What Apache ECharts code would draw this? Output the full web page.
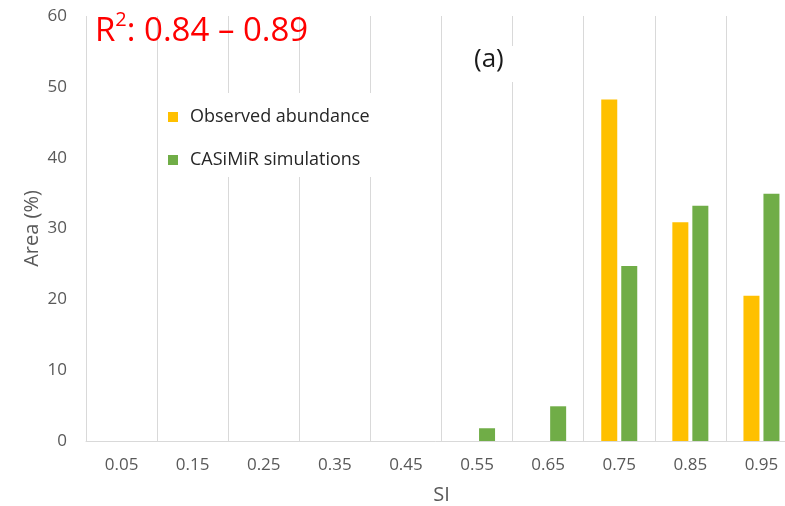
<!DOCTYPE html>
<html>
<head>
<meta charset="utf-8">
<script src="https://cdn.jsdelivr.net/npm/echarts@6/dist/echarts.min.js"></script>
<style>
  html, body { margin: 0; padding: 0; background: #fff; }
  #chart { width: 785px; height: 506px; }
</style>
</head>
<body>
<div id="chart"></div>
<script>
// Suitability index classes (bin centres)
const siClasses = ['0.05', '0.15', '0.25', '0.35', '0.45', '0.55', '0.65', '0.75', '0.85', '0.95'];
// Share of area (%) per class
const observedAbundance = [0, 0, 0, 0, 0, 0, 0, 48.2, 30.9, 20.5];
const casimirSimulations = [0, 0, 0, 0, 0, 1.8, 4.9, 24.7, 33.2, 34.9];
const yTicks = { min: 0, max: 60, interval: 10 };

const FONT = '"Open Sans", "Noto Sans", sans-serif';
const GREY = '#595959';
const GRID_LINE = '#d9d9d9';

const chart = echarts.init(document.getElementById('chart'), null, { renderer: 'canvas' });

chart.setOption({
  animation: false,
  backgroundColor: '#ffffff',
  textStyle: { fontFamily: FONT },
  // plot area runs a little past the right edge of the canvas
  grid: { left: 86, top: 16, width: 711, height: 425, outerBoundsMode: 'none', containLabel: false },
  legend: {
    orient: 'vertical',
    left: 160,
    top: 93,
    padding: [14, 2, 7, 8],
    backgroundColor: '#ffffff',
    itemWidth: 10,
    itemHeight: 10,
    itemGap: 23,
    icon: 'rect',
    textStyle: { fontFamily: FONT, fontSize: 18, color: '#262626', lineHeight: 20, padding: [0, 0, 0, 7] },
    data: ['Observed abundance', 'CASiMiR simulations']
  },
  xAxis: {
    type: 'category',
    data: siClasses,
    name: 'SI',
    nameLocation: 'middle',
    nameGap: 44,
    nameMoveOverlap: false,
    nameTextStyle: { fontFamily: FONT, fontSize: 20, color: GREY },
    axisLine: { show: true, lineStyle: { color: GRID_LINE, width: 1 } },
    axisTick: { show: false },
    axisLabel: { fontFamily: FONT, fontSize: 17, color: GREY, margin: 16 },
    splitLine: { show: true, lineStyle: { color: GRID_LINE, width: 1 } }
  },
  yAxis: {
    type: 'value',
    min: yTicks.min,
    max: yTicks.max,
    interval: yTicks.interval,
    name: 'Area (%)',
    nameLocation: 'middle',
    nameGap: 44,
    nameMoveOverlap: false,
    nameTextStyle: { fontFamily: FONT, fontSize: 20, color: GREY },
    axisLine: { show: false },
    axisTick: { show: false },
    axisLabel: { fontFamily: FONT, fontSize: 17, color: GREY, margin: 19 },
    splitLine: { show: false }
  },
  series: [
    {
      name: 'Observed abundance',
      type: 'bar',
      data: observedAbundance,
      barWidth: 16,
      barGap: '25%',
      itemStyle: { color: '#FFC000' }
    },
    {
      name: 'CASiMiR simulations',
      type: 'bar',
      data: casimirSimulations,
      barWidth: 16,
      barGap: '25%',
      itemStyle: { color: '#70AD47' }
    }
  ],
  graphic: [
    {
      type: 'text',
      left: 95,
      top: 10,
      z: 10,
      style: {
        text: '{m|R}{s|2}{m|: 0.84 – 0.89}',
        fontFamily: FONT,
        rich: {
          m: { fontSize: 33, fill: '#ff0000', fontFamily: FONT, lineHeight: 38, verticalAlign: 'bottom' },
          s: { fontSize: 20, fill: '#ff0000', fontFamily: FONT, lineHeight: 38, verticalAlign: 'top' }
        }
      }
    },
    {
      type: 'rect',
      left: 466,
      top: 46,
      z: 9,
      shape: { width: 52, height: 36 },
      style: { fill: '#ffffff' }
    },
    {
      type: 'text',
      left: 474,
      top: 47,
      z: 10,
      style: { text: '(a)', fontFamily: FONT, fontSize: 26, fill: '#1a1a1a' }
    }
  ]
});
</script>
</body>
</html>
